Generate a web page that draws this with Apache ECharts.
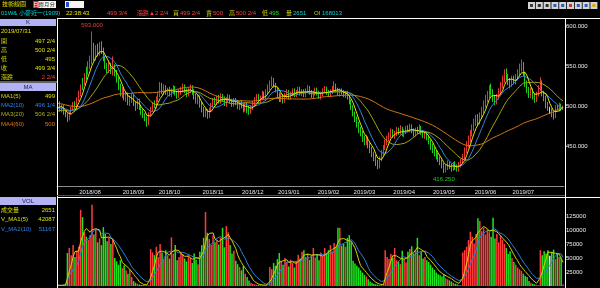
<!DOCTYPE html>
<html><head><meta charset="utf-8">
<script src="https://cdn.jsdelivr.net/npm/echarts@6/dist/echarts.min.js"></script>
<style>html,body{margin:0;padding:0;background:#000;overflow:hidden}#c{width:600px;height:288px}</style>
</head><body><div id="c"></div>
<script>
// ---------- data ----------
const months = ['2018/07','2018/08','2018/09','2018/10','2018/11','2018/12','2019/01','2019/02','2019/03','2019/04','2019/05','2019/06','2019/07'];
const monthDays = [17,23,19,23,21,19,21,19,21,21,22,20,22];
// closes before the visible window (needed only for the moving averages)
const priorCloses = [521,518,524,527,522,519,515,520,517,512,509,514,511,507,503,508,505,510,506,502,
498,503,500,505,508,512,509,504,500,496,501,505,510,513,508,504,499,495,491,494,
489,486,490,493,497,492,488,485,489,494,498,495,491,496,500,497,493,498,501];
const opens = [498,503,495,500,490,489,483,491,496,503,
497,509,514,532,528,546,543,551,558,571,
560,572,566,576,570,561,550,544,552,542,
549,542,534,526,514,520,509,515,504,508,
513,504,498,507,499,493,489,485,478,489,
495,503,499,508,513,522,517,525,516,521,
514,518,523,517,512,517,520,525,520,514,
519,524,519,513,506,511,502,497,489,494,
486,494,500,508,503,511,505,513,510,502,
507,512,507,501,508,505,498,504,501,495,
502,498,492,497,502,507,513,505,509,516,
510,517,522,527,532,527,521,515,508,513,
506,512,518,510,514,520,513,516,522,515,
519,513,518,523,518,512,515,521,517,511,
514,518,522,518,513,517,521,526,521,515,
520,518,513,517,512,506,499,491,485,477,
471,467,460,454,461,452,446,441,437,430,
424,433,440,447,454,459,463,469,462,465,
471,466,472,464,467,473,469,475,470,464,
471,467,473,468,462,467,461,457,450,446,
442,438,435,431,427,419,423,429,426,421,
428,425,420,425,430,435,444,451,458,465,
472,478,486,479,487,494,501,508,513,521,
518,511,504,511,517,525,532,541,537,532,
526,535,529,535,540,547,553,541,529,521,
513,520,513,507,514,521,530,516,511,501,
494,495,491,487,499,496,501,497.5];
const closes = [502,496,499,491,488,484,490,497,501,498,
508,516,523,530,537,544,550,557,566,561,
570,567,574,569,560,549,545,551,543,548,
541,533,525,516,519,510,514,505,509,512,
503,497,506,498,492,488,484,479,490,496,
502,500,509,514,521,518,524,517,520,515,
519,522,516,513,518,521,524,519,515,520,
523,518,512,507,510,501,496,490,493,487,
495,501,507,504,510,506,512,509,503,508,
511,506,502,507,504,499,503,500,496,501,
497,493,498,503,508,512,506,510,515,511,
518,523,528,531,526,520,514,509,512,507,
513,517,511,515,519,514,517,521,516,518,
514,519,522,517,513,516,520,516,512,515,
519,521,517,514,518,522,525,520,516,519,
517,514,516,511,505,498,490,484,476,470,
466,459,455,460,451,445,440,436,429,425,
434,441,448,455,460,464,468,463,466,470,
467,471,465,468,472,470,474,469,465,470,
468,472,467,463,466,460,456,449,445,441,
437,434,430,426,420,424,428,425,422,427,
424,421,426,431,436,445,452,459,466,473,
479,484,480,488,495,502,509,514,520,517,
510,505,512,518,526,533,540,536,531,527,
534,530,536,541,548,552,540,528,520,514,
519,512,508,515,522,529,515,510,500,498,
494,490,486,498,497,501,497.25,499.75];
const highs = [505,506,502,501,494,491,493,499,505,506,
511,519,527,535,541,549,556,563,593,579,
576,578,580,581,573,563,554,556,554,562,
552,545,536,528,524,522,518,517,513,516,
515,506,509,509,501,496,491,487,492,499,
505,507,512,518,530,529,527,526,523,524,
522,526,525,519,521,524,528,527,522,523,
527,526,521,515,514,513,505,499,497,496,
498,504,510,511,513,514,516,515,512,511,
515,514,509,510,510,507,506,507,503,504,
504,500,501,506,511,515,515,513,519,518,
521,527,532,537,535,529,523,517,516,515,
516,521,520,518,522,522,520,524,524,521,
521,522,526,525,520,519,523,523,519,518,
522,525,524,520,521,525,531,528,523,522,
522,520,519,519,514,508,501,493,487,480,
474,469,463,464,462,454,449,443,439,433,
437,445,451,458,463,467,472,471,469,474,
473,476,474,471,475,476,478,477,472,473,
474,477,475,470,469,468,463,458,453,449,
445,441,437,433,429,427,432,431,428,430,
431,427,430,434,440,448,456,463,470,477,
484,489,490,492,499,507,514,519,526,528,
521,514,515,522,530,538,546,547,540,535,
538,538,540,546,553,558,555,543,532,524,
523,522,516,518,526,536,532,519,513,505,
499,497,493,501,502,504,503,500.5];
const lows = [495,493,492,489,486,480,482,489,494,496,
496,506,512,520,526,533,539,546,552,556,
557,562,563,565,556,546,541,541,540,538,
537,529,520,512,510,507,505,501,500,504,
500,494,496,495,489,485,481,474,476,487,
493,497,497,505,511,515,514,514,513,512,
511,515,513,509,510,514,517,516,511,512,
516,514,508,503,502,498,492,486,486,484,
485,492,498,501,501,503,503,506,500,499,
505,503,499,499,501,496,495,497,492,493,
491,489,490,495,500,505,503,503,507,508,
508,515,520,524,523,517,510,505,505,503,
504,510,508,508,512,511,511,514,513,512,
511,511,516,514,510,509,513,513,509,508,
512,516,514,511,511,515,518,517,513,512,
514,511,510,508,502,495,487,480,473,466,
462,455,451,451,447,441,436,431,425,421,
422,431,438,445,451,456,460,460,459,462,
464,464,462,461,465,467,467,466,462,462,
465,465,464,460,459,457,452,445,441,437,
433,430,426,422,416.25,417,420,421,418,419,
420,418,418,423,428,433,441,448,455,462,
469,475,476,477,484,491,498,505,510,513,
505,501,502,508,514,522,529,532,526,522,
524,527,527,532,537,543,537,524,516,510,
510,508,504,505,512,519,512,506,497,494,
490,486,483,485,494,493,494,495];
const volumes = [1200,900,1500,2100,3000,59000,68000,55000,73000,52000,
63000,70000,136000,123000,96000,88000,82000,91000,145000,92000,
101000,78000,85000,73000,105000,93000,80000,86000,75000,83000,
50000,44000,38000,46000,32000,37000,28000,22000,30000,16000,
9000,6000,4000,3000,2000,1800,1500,1200,1400,66000,
60000,55000,70000,52000,75000,60000,48000,64000,55000,49000,
87000,58000,73000,46000,52000,61000,57000,49000,44000,55000,
50000,41000,58000,47000,39000,61000,73000,86000,132000,95000,
84000,73000,90000,78000,81000,74000,86000,104000,69000,107000,
96000,73000,58000,63000,45000,39000,34000,28000,36000,22000,
16000,10000,6000,4000,3000,2200,1800,1500,1200,1100,
1300,1000,34000,30000,41000,36000,48000,59000,44000,38000,
50000,43000,35000,47000,41000,33000,45000,56000,49000,61000,
64000,52000,58000,47000,55000,68000,51000,57000,46000,60000,
53000,68000,59000,64000,73000,62000,77000,70000,104000,104000,
72000,75000,70000,86000,91000,78000,45000,40000,36000,33000,
28000,24000,20000,17000,12000,8000,6000,4000,3000,2500,
2000,1600,1300,64000,52000,48000,57000,50000,68000,46000,
44000,39000,63000,48000,42000,61000,66000,71000,58000,64000,
86000,55000,62000,49000,52000,46000,43000,38000,33000,29000,
24000,21000,19000,17000,21000,14000,12000,10000,8000,6000,
4000,3000,2000,1500,60000,64000,70000,82000,97000,88000,
76000,93000,121000,116000,98000,104000,92000,101000,96000,88000,
122000,85000,93000,78000,90000,82000,75000,68000,57000,62000,
50000,43000,38000,33000,30000,27000,22000,18000,16000,9000,
6000,4000,3000,2000,1500,64000,55000,62000,58000,64000,
54000,61000,65000,48000,57000,52000,51000,2651];
const priceTicks = [450, 500, 550, 600];
const volTicks = [25000, 50000, 75000, 100000, 125000];

// ---------- derived ----------
const categories = [];
const monthStart = new Set();
months.forEach((m, k) => {
  if (k > 0) monthStart.add(categories.length);
  for (let d = 0; d < monthDays[k]; d++) categories.push(m + '/' + String(d + 1).padStart(2, '0'));
});
function movingAvg(src, n, skip) {
  const out = [];
  for (let i = skip; i < src.length; i++) {
    const s = Math.max(0, i - n + 1);
    let sum = 0;
    for (let j = s; j <= i; j++) sum += src[j];
    out.push(+(sum / (i - s + 1)).toFixed(3));
  }
  return out;
}
const allCloses = priorCloses.concat(closes);
const ma5 = movingAvg(allCloses, 5, priorCloses.length);
const ma10 = movingAvg(allCloses, 10, priorCloses.length);
const ma20 = movingAvg(allCloses, 20, priorCloses.length);
const ma60 = movingAvg(allCloses, 60, priorCloses.length);
const vma5 = movingAvg(volumes, 5, 0);
const vma10 = movingAvg(volumes, 10, 0);

const UP = '#ff3c3c', DOWN = '#1ee61e';
const kData = closes.map((c, i) => [opens[i], c, lows[i], highs[i]]);
const volData = volumes.map((v, i) => ({
  value: v,
  itemStyle: { color: closes[i] > opens[i] ? UP : (closes[i] < opens[i] ? DOWN : '#f0f0f0') }
}));

const FONT = '"Liberation Sans", Arial, "Noto Sans CJK TC", sans-serif';
const F6 = '6px ' + FONT;
const LAV = '#b2b2f4';

function txt(t, x, y, color, align, font) {
  return { type: 'text', silent: true, z: 100, style: {
    text: t, x: x, y: y, fill: color, font: font || F6,
    align: align || 'left', textAlign: align || 'left',
    verticalAlign: 'middle', textVerticalAlign: 'middle' } };
}
function rect(x, y, w, h, fill, stroke) {
  return { type: 'rect', silent: true, z: 90, shape: { x: x, y: y, width: w, height: h },
    style: { fill: fill, stroke: stroke || null, lineWidth: stroke ? 1 : 0 } };
}
function line(x1, y1, x2, y2, color) {
  return { type: 'line', silent: true, z: 95, shape: { x1: x1, y1: y1, x2: x2, y2: y2 },
    style: { stroke: color, lineWidth: 1 } };
}

const graphics = [
  // top bar
  txt('技術線圖', 2, 4.5, '#e0e000'),
  rect(33, 1, 23, 7, '#f4f4f4'),
  rect(33, 1, 5.5, 7, '#e02020'),
  txt('日', 35.8, 4.6, '#ffffff', 'center', '5px ' + FONT),
  txt('週', 41.3, 4.6, '#202020', 'center', '5px ' + FONT),
  txt('月', 46.8, 4.6, '#202020', 'center', '5px ' + FONT),
  txt('分', 52.3, 4.6, '#202020', 'center', '5px ' + FONT),
  rect(65, 1, 19, 7, '#f4f4f4'),
  rect(66, 2, 3, 5, '#2050d0'),
  // second row
  txt('01W& 小麥近一(1909)', 1, 13.5, '#00d8d8'),
  txt('22:38:43', 66, 13.5, '#e8e800'),
  txt('499 3/4', 107, 13.5, '#ff4040'),
  txt('漲跌▲2 2/4', 137, 13.5, '#ff4040'),
  txt('買', 173, 13.5, '#d0d000'), txt('499 2/4', 180, 13.5, '#ff4040'),
  txt('賣', 206, 13.5, '#d0d000'), txt('500', 213, 13.5, '#ff4040'),
  txt('高', 229, 13.5, '#d0d000'), txt('500 2/4', 236, 13.5, '#ff4040'),
  txt('低', 262, 13.5, '#d0d000'), txt('495', 269, 13.5, '#20e020'),
  txt('量', 286, 13.5, '#d0d000'), txt('2651', 293, 13.5, '#00d8d8'),
  txt('OI', 314, 13.5, '#d0d000'), txt('168013', 322, 13.5, '#00d8d8'),
  // frame
  line(57, 18.5, 600, 18.5, '#ffffff'),
  line(57.5, 18, 57.5, 288, '#ffffff'),
  line(565.5, 18, 565.5, 288, '#ffffff'),
  line(57, 195.5, 565, 195.5, '#505050'),
  line(57, 197.5, 600, 197.5, '#ffffff'),
  // left panel: K
  rect(0, 19, 56, 7, LAV),
  txt('K', 28, 22.6, '#20205a', 'center'),
  txt('2019/07/31', 1, 31, '#e0e000'),
  txt('開', 1, 41, '#d0d000'), txt('497 2/4', 55, 41, '#e0e000', 'right'),
  txt('高', 1, 50, '#d0d000'), txt('500 2/4', 55, 50, '#e0e000', 'right'),
  txt('低', 1, 59, '#d0d000'), txt('495', 55, 59, '#e0e000', 'right'),
  txt('收', 1, 68, '#d0d000'), txt('499 3/4', 55, 68, '#e0e000', 'right'),
  txt('漲跌', 1, 77, '#d0d000'), txt('2 2/4', 55, 77, '#ff4040', 'right'),
  line(0, 82, 57, 82, '#c0c0c0'),
  rect(0, 83, 56, 8, LAV),
  txt('MA', 28, 87, '#20205a', 'center'),
  txt('MA1(5)', 1, 96, '#d8d800'), txt('499', 55, 96, '#e0e000', 'right'),
  txt('MA2(10)', 1, 105, '#2c84f0'), txt('496 1/4', 55, 105, '#2c84f0', 'right'),
  txt('MA3(20)', 1, 114, '#b0b020'), txt('506 2/4', 55, 114, '#b0b020', 'right'),
  txt('MA4(60)', 1, 124, '#e07818'), txt('500', 55, 124, '#e07818', 'right'),
  // left panel: VOL
  rect(0, 197, 56, 8, LAV),
  txt('VOL', 28, 201, '#20205a', 'center'),
  txt('成交量', 1, 210.5, '#e0e000'), txt('2651', 55, 210.5, '#e0e000', 'right'),
  txt('V_MA1(5)', 1, 219.5, '#e0e000'), txt('42087', 55, 219.5, '#e0e000', 'right'),
  txt('V_MA2(10)', 1, 229, '#2c84f0'), txt('51167', 55, 229, '#2c84f0', 'right')
];
// toolbar icons (top right)
const iconInner = ['#404040','#303030','#303030','#2a5cc8','#2a5cc8','#c03838','#2a5cc8','#2a5cc8','#d8a800'];
iconInner.forEach((c, k) => {
  const x = 528 + k * 7.8;
  graphics.push(rect(x, 2, 7, 7, '#d4d4d4'));
  graphics.push(rect(x + 2, 4, 3, 3, c));
});

const chart = echarts.init(document.getElementById('c'), null, { renderer: 'canvas' });
chart.setOption({
  backgroundColor: '#000000',
  animation: false,
  grid: [
    { left: 57, right: 36, top: 18, height: 168, outerBoundsMode: 'none', containLabel: false },
    { left: 57, right: 36, top: 198, height: 88, outerBoundsMode: 'none', containLabel: false }
  ],
  xAxis: [
    { type: 'category', gridIndex: 0, data: categories, boundaryGap: true,
      axisLine: { lineStyle: { color: '#8c8c8c', width: 1 } }, axisTick: { show: false }, splitLine: { show: false },
      axisLabel: { interval: (i) => monthStart.has(i), formatter: (v) => v.slice(0, 7),
        color: '#e4e4e4', fontSize: 6, fontFamily: FONT, margin: 3, hideOverlap: false } },
    { type: 'category', gridIndex: 1, data: categories, boundaryGap: true,
      axisLine: { show: false }, axisTick: { show: false }, axisLabel: { show: false }, splitLine: { show: false } }
  ],
  yAxis: [
    { type: 'value', gridIndex: 0, position: 'right', min: 400, max: 610, interval: 50, scale: false,
      axisLine: { show: false }, axisTick: { show: false }, splitLine: { show: false },
      axisLabel: { color: '#ececec', fontSize: 6, fontFamily: FONT, margin: 2,
        formatter: (v) => priceTicks.includes(v) ? v.toFixed(3) : '' } },
    { type: 'value', gridIndex: 1, position: 'right', min: 0, max: 157143, interval: 25000,
      axisLine: { show: false }, axisTick: { show: false }, splitLine: { show: false },
      axisLabel: { color: '#ececec', fontSize: 6, fontFamily: FONT, margin: 2,
        formatter: (v) => volTicks.includes(v) ? String(v) : '' } }
  ],
  series: [
    { type: 'candlestick', xAxisIndex: 0, yAxisIndex: 0, data: kData, barWidth: 1.2,
      itemStyle: { color: UP, color0: DOWN, borderColor: UP, borderColor0: DOWN, borderColorDoji: '#f0f0f0', borderWidth: 0.9 },
      markPoint: {
        symbol: 'circle', symbolSize: 0, silent: true,
        data: [
          { type: 'max', valueDim: 'highest', label: { position: 'top', distance: 3, color: '#e04040' } },
          { type: 'min', valueDim: 'lowest', label: { position: 'bottom', distance: 3, color: '#20c820' } }
        ],
        label: { show: true, fontSize: 6, fontFamily: FONT, formatter: (p) => Number(p.value).toFixed(3) },
        itemStyle: { color: 'rgba(0,0,0,0)' }
      } },
    { type: 'line', name: 'MA60', xAxisIndex: 0, yAxisIndex: 0, data: ma60, showSymbol: false, symbol: 'none',
      lineStyle: { color: '#d07412', width: 1 }, z: 3 },
    { type: 'line', name: 'MA20', xAxisIndex: 0, yAxisIndex: 0, data: ma20, showSymbol: false, symbol: 'none',
      lineStyle: { color: '#a4a410', width: 1 }, z: 3 },
    { type: 'line', name: 'MA10', xAxisIndex: 0, yAxisIndex: 0, data: ma10, showSymbol: false, symbol: 'none',
      lineStyle: { color: '#2e86de', width: 1 }, z: 3 },
    { type: 'line', name: 'MA5', xAxisIndex: 0, yAxisIndex: 0, data: ma5, showSymbol: false, symbol: 'none',
      lineStyle: { color: '#e6e600', width: 1 }, z: 3 },
    { type: 'bar', xAxisIndex: 1, yAxisIndex: 1, data: volData, barWidth: 1.5 },
    { type: 'line', name: 'VMA10', xAxisIndex: 1, yAxisIndex: 1, data: vma10, showSymbol: false, symbol: 'none',
      lineStyle: { color: '#2f7fd8', width: 1 }, z: 3 },
    { type: 'line', name: 'VMA5', xAxisIndex: 1, yAxisIndex: 1, data: vma5, showSymbol: false, symbol: 'none',
      lineStyle: { color: '#d0d000', width: 1 }, z: 3 }
  ],
  graphic: graphics
});
</script>
</body></html>
